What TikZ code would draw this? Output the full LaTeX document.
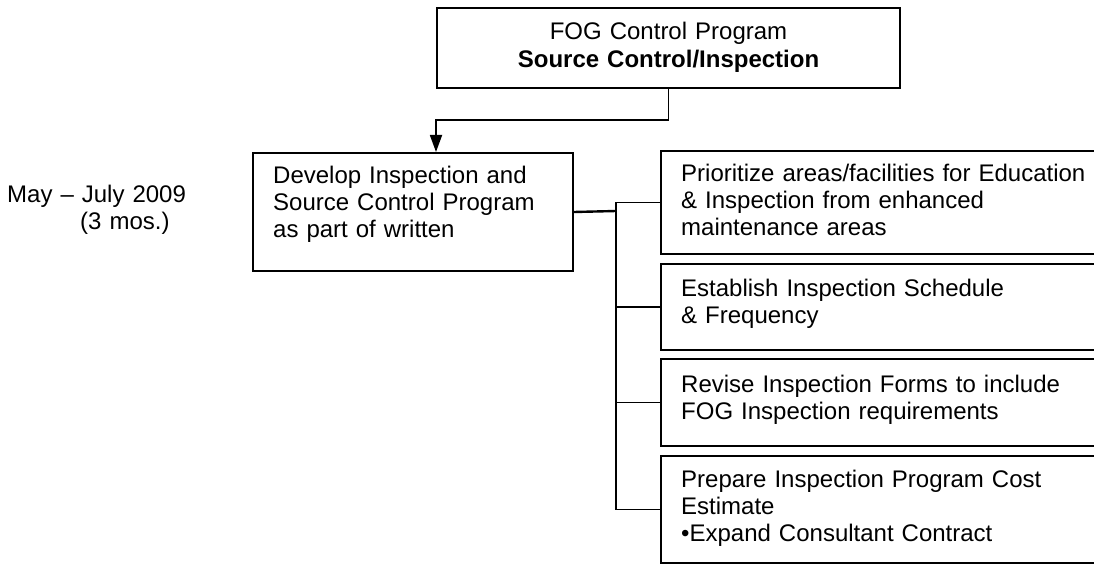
\documentclass[tikz,border=0pt]{standalone}
\usepackage{fontspec}
\setmainfont{Liberation Sans}
\usetikzlibrary{arrows.meta}
\tikzset{
  box/.style={draw, line width=2pt, inner sep=0pt, anchor=north west},
  txt/.style={inner sep=0pt, anchor=base west, text width=420pt, align=left,
    font=\fontsize{24}{27}\selectfont},
  link/.style={line width=1.8pt},
}
\begin{document}
\begin{tikzpicture}[x=1pt, y=-1pt]
  \useasboundingbox (0,0) rectangle (1094,564);
  \node[box, minimum width=463pt, minimum height=80pt] (prog) at (436,7) {};
  \node[txt, anchor=base, text width=463pt, align=center,
    font=\fontsize{24}{28}\selectfont] (progtxt) at ([shift={(0,33)}]prog.north)
    {FOG Control Program\\\textbf{Source Control/Inspection}};
  \node[txt, text width=220pt, font=\fontsize{24}{28}\selectfont] (when) at (7,202)
    {May – July 2009\\\hspace*{73pt}(3 mos.)};
  \node[box, minimum width=320pt, minimum height=118pt] (dev) at (252,152) {};
  \node[txt] (devtxt) at ([shift={(21,32)}]dev.north west)
    {Develop Inspection and\\Source Control Program\\as part of written};
  \node[box, minimum width=440pt, minimum height=103pt] (b1) at (660,150) {};
  \node[txt] (b1txt) at ([shift={(21,32)}]b1.north west)
    {Prioritize areas/facilities for Education\\\& Inspection from enhanced\\maintenance areas};
  \node[box, minimum width=440pt, minimum height=86pt] (b2) at (660,263) {};
  \node[txt] (b2txt) at ([shift={(21,33)}]b2.north west)
    {Establish Inspection Schedule\\\& Frequency};
  \node[box, minimum width=440pt, minimum height=87pt] (b3) at (660,358) {};
  \node[txt] (b3txt) at ([shift={(21,34)}]b3.north west)
    {Revise Inspection Forms to include\\FOG Inspection requirements};
  \node[box, minimum width=440pt, minimum height=107pt] (b4) at (660,455) {};
  \node[txt] (b4txt) at ([shift={(21,32)}]b4.north west)
    {Prepare Inspection Program Cost\\Estimate\\•Expand Consultant Contract};
  \draw[link, -{Triangle[width=12pt, length=17pt]}] (prog.south) -- ++(0,31)
    -| (prog.west |- dev.north);
  \coordinate (fork) at (616,211);
  \draw[link, line width=2.4pt] (dev.east) -- (fork);
  \draw[link] (fork) |- (b1.west);
  \draw[link] (fork) |- (b2.west);
  \draw[link] (fork) |- (b3.west);
  \draw[link] (fork) |- (b4.west);
\end{tikzpicture}
\end{document}
